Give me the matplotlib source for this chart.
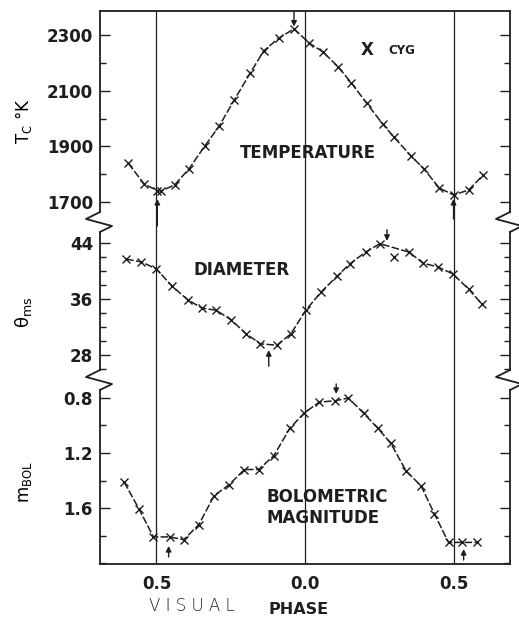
#!/usr/bin/env python3

# imports
import matplotlib
matplotlib.use('Agg')
import matplotlib.pyplot as plt
from matplotlib.ticker import MultipleLocator, FixedLocator, FormatStrFormatter

# phase / value readings for chi Cyg
temp_phase = [-0.595, -0.541, -0.497, -0.485, -0.439, -0.391, -0.337, -0.289, -0.238,
              -0.184, -0.139, -0.088, -0.037, 0.014, 0.061, 0.112, 0.156, 0.207,
              0.262, 0.299, 0.357, 0.401, 0.452, 0.500, 0.551, 0.599]
temp_value = [1840, 1765, 1742, 1740, 1762, 1819, 1902, 1973, 2067,
              2164, 2243, 2289, 2322, 2271, 2239, 2185, 2128, 2056,
              1980, 1934, 1866, 1819, 1751, 1726, 1744, 1797]

diam_phase = [-0.602, -0.551, -0.500, -0.449, -0.395, -0.347, -0.299, -0.248, -0.197,
              -0.150, -0.095, -0.048, 0.003, 0.054, 0.109, 0.150, 0.204, 0.252,
              0.350, 0.398, 0.446, 0.497, 0.551, 0.595]
diam_value = [41.7, 41.3, 40.3, 37.9, 35.9, 34.7, 34.4, 33.0, 31.0,
              29.6, 29.4, 31.0, 34.4, 37.0, 39.3, 41.0, 42.7, 43.9,
              42.7, 41.1, 40.6, 39.6, 37.4, 35.3]
# point lying off the drawn curve
diam_off_phase = [0.299]
diam_off_value = [42.0]

mbol_phase = [-0.609, -0.558, -0.510, -0.456, -0.408, -0.357, -0.306, -0.255, -0.204,
              -0.156, -0.105, -0.051, -0.003, 0.048, 0.102, 0.146, 0.197, 0.245,
              0.289, 0.340, 0.391, 0.435, 0.483, 0.527, 0.578]
mbol_value = [1.41, 1.61, 1.81, 1.81, 1.83, 1.72, 1.51, 1.43, 1.32,
              1.32, 1.22, 1.02, 0.91, 0.83, 0.82, 0.80, 0.91, 1.02,
              1.13, 1.33, 1.44, 1.64, 1.85, 1.85, 1.85]

phase_ticks = [-0.5, 0.0, 0.5]
phase_labels = ['0.5', '0.0', '0.5']

# extremum arrows: (phase, tail, head)
temp_arrows = [(-0.037, 2385, 2330), (-0.497, 1615, 1712), (0.500, 1640, 1712)]
diam_arrows = [(0.276, 45.9, 44.3), (-0.122, 26.4, 28.7)]
mbol_arrows = [(0.105, 0.698, 0.771), (-0.459, 1.956, 1.876), (0.534, 1.978, 1.898)]

ink = '#1e1e1e'
plt.rcParams['font.family'] = 'DejaVu Sans'
plt.rcParams['font.weight'] = 'bold'
plt.rcParams['mathtext.default'] = 'bf'
plt.rcParams['text.color'] = ink
plt.rcParams['axes.edgecolor'] = ink
plt.rcParams['xtick.color'] = ink
plt.rcParams['ytick.color'] = ink

W, H = 519, 620
fig = plt.figure(figsize=(W / 100, H / 100), dpi=100)

left_px, right_px = 100, 510
top_px, bottom_px = 11, 564


def rect(t, b):
    return [left_px / W, 1 - b / H, (right_px - left_px) / W, (b - t) / H]


xlim = (-0.69, 0.69)

# frame with the phase axis and the phase markers
ax_bg = fig.add_axes(rect(top_px, bottom_px))
ax_bg.set_xlim(*xlim)
ax_bg.set_ylim(0, 1)
for side in ['left', 'right']:
    ax_bg.spines[side].set_visible(False)
for side in ['top', 'bottom']:
    ax_bg.spines[side].set_linewidth(1.3)
ax_bg.set_yticks([])
ax_bg.set_xticks(phase_ticks)
ax_bg.set_xticklabels(phase_labels, fontsize=12)
ax_bg.tick_params(axis='x', length=0, pad=8)
for p in phase_ticks:
    ax_bg.axvline(p, color=ink, lw=0.9)

fig.text(192 / W, 1 - 606 / H, 'V I S U A L', fontsize=12, ha='center', va='center',
         fontweight='light', color=ink)
fig.text(299 / W, 1 - 609 / H, 'PHASE', fontsize=11.5, ha='center', va='center')

panels = [(11, 212), (232, 370), (390, 564)]
axes = []
for t, b in panels:
    ax = fig.add_axes(rect(t, b), facecolor='none')
    ax.set_xlim(*xlim)
    ax.set_xticks([])
    ax.spines['top'].set_visible(False)
    ax.spines['bottom'].set_visible(False)
    ax.spines['left'].set_linewidth(1.3)
    ax.spines['right'].set_linewidth(1.3)
    ax.tick_params(axis='y', which='both', direction='in', left=True, right=True,
                   width=1.0, labelsize=12, pad=5)
    ax.tick_params(axis='y', which='major', length=7)
    ax.tick_params(axis='y', which='minor', length=4)
    axes.append(ax)
ax_t, ax_d, ax_m = axes

line_kw = dict(color=ink, lw=1.1, ls=(0, (5, 1.5)), marker='x', ms=5.5, mew=1.0)
arrow_kw = dict(arrowstyle='-|>', color=ink, lw=1.0, mutation_scale=8, shrinkA=0, shrinkB=0)

# temperature
ax_t.plot(temp_phase, temp_value, **line_kw)
ax_t.set_ylim(1665, 2386)
ax_t.yaxis.set_major_locator(FixedLocator([1700, 1900, 2100, 2300]))
ax_t.yaxis.set_minor_locator(MultipleLocator(100))
ax_t.set_ylabel(r'$\mathregular{T_C}$ °K', fontsize=12)
ax_t.yaxis.set_label_coords(-0.16, 0.45)
ax_t.text(0.01, 1876, 'TEMPERATURE', fontsize=12, ha='center', va='center')
ax_t.text(0.21, 2246, 'X', fontsize=12, ha='center', va='center')
ax_t.text(0.279, 2246, 'CYG', fontsize=8.5, ha='left', va='center')
for p, y0, y1 in temp_arrows:
    ax_t.annotate('', xy=(p, y1), xytext=(p, y0), arrowprops=arrow_kw, annotation_clip=False)

# diameter
ax_d.plot(diam_phase, diam_value, **line_kw)
ax_d.plot(diam_off_phase, diam_off_value, ls='none', marker='x', ms=5.5, mew=1.0, color=ink)
ax_d.set_ylim(25.86, 45.57)
ax_d.yaxis.set_major_locator(FixedLocator([28, 36, 44]))
ax_d.yaxis.set_minor_locator(MultipleLocator(2))
ax_d.set_ylabel(r'$\mathregular{\theta_{ms}}$', fontsize=13)
ax_d.yaxis.set_label_coords(-0.16, 0.42)
ax_d.text(-0.214, 40.1, 'DIAMETER', fontsize=12, ha='center', va='center')
for p, y0, y1 in diam_arrows:
    ax_d.annotate('', xy=(p, y1), xytext=(p, y0), arrowprops=arrow_kw, annotation_clip=False)

# bolometric magnitude
ax_m.plot(mbol_phase, mbol_value, **line_kw)
ax_m.set_ylim(2.007, 0.742)
ax_m.yaxis.set_major_locator(FixedLocator([0.8, 1.2, 1.6]))
ax_m.yaxis.set_minor_locator(MultipleLocator(0.2))
ax_m.yaxis.set_major_formatter(FormatStrFormatter('%.1f'))
ax_m.set_ylabel(r'$\mathregular{m_{BOL}}$', fontsize=12)
ax_m.yaxis.set_label_coords(-0.16, 0.47)
ax_m.text(-0.129, 1.52, 'BOLOMETRIC', fontsize=12, ha='left', va='center')
ax_m.text(-0.129, 1.672, 'MAGNITUDE', fontsize=12, ha='left', va='center')
for p, y0, y1 in mbol_arrows:
    ax_m.annotate('', xy=(p, y1), xytext=(p, y0), arrowprops=arrow_kw, annotation_clip=False)

# axis break zigzags on both sides
span = bottom_px - top_px
for t, b in [(212, 232), (370, 390)]:
    ys = [t, t + 7, t + 14, b]
    for x0 in [left_px, right_px]:
        xs = [x0, x0 - 14, x0 + 12, x0]
        ax_bg.plot([(x - left_px) / (right_px - left_px) for x in xs],
                   [(bottom_px - y) / span for y in ys],
                   color=ink, lw=1.3, transform=ax_bg.transAxes, clip_on=False)

plt.savefig('out.png', dpi=100)
